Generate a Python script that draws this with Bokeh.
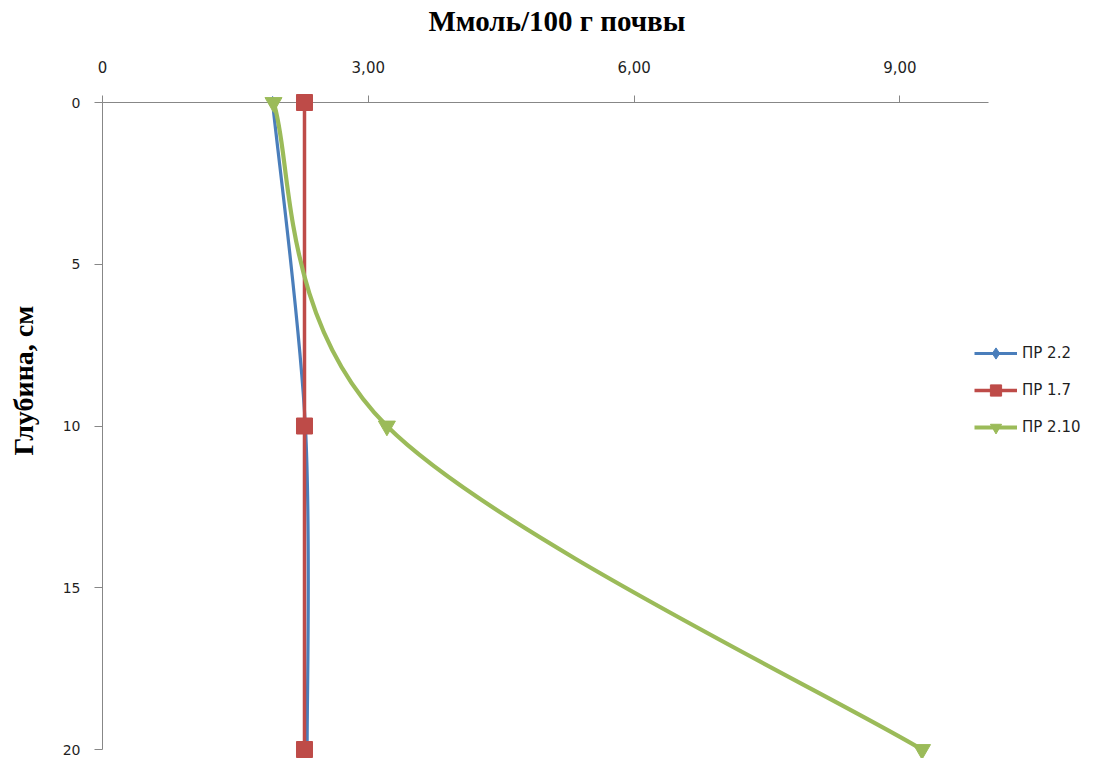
from bokeh.plotting import figure
from bokeh.models import Range1d, FixedTicker, Legend, LegendItem, Title, ColumnDataSource
from bokeh.embed import file_html
from bokeh.resources import INLINE

# Depth of sampling, cm
depth = [0, 10, 20]

# Content, mmol per 100 g of soil
pr_2_2 = [1.92, 2.29, 2.31]
pr_1_7 = [2.28, 2.28, 2.28]
pr_2_10 = [1.93, 3.21, 9.25]

series_names = ["ПР 2.2", "ПР 1.7", "ПР 2.10"]
series_values = [pr_2_2, pr_1_7, pr_2_10]
series_colors = ["#4A7EBB", "#BE4B48", "#9BBB59"]
series_markers = ["diamond", "square", "inverted_triangle"]
series_marker_sizes = [12, 16, 17]
series_widths = [3.2, 3.5, 4.2]

x_ticks = [0, 3, 6, 9]
x_tick_labels = ["0", "3,00", "6,00", "9,00"]
y_ticks = [0, 5, 10, 15, 20]

FONT = "DejaVu Sans"
SERIF = "Liberation Serif"
TEXT_COLOR = "#1f1f1f"
AXIS_COLOR = "#878787"


def smooth_segments(xs, ys):
    """Cubic Bezier segments through the points (spreadsheet-style smoothing)."""
    n = len(xs)
    seg = {k: [] for k in ("x0", "y0", "x1", "y1", "cx0", "cy0", "cx1", "cy1")}
    for i in range(n - 1):
        prev_i = max(i - 1, 0)
        next_i = min(i + 2, n - 1)
        seg["x0"].append(xs[i])
        seg["y0"].append(ys[i])
        seg["x1"].append(xs[i + 1])
        seg["y1"].append(ys[i + 1])
        seg["cx0"].append(xs[i] + (xs[i + 1] - xs[prev_i]) / 6.0)
        seg["cy0"].append(ys[i] + (ys[i + 1] - ys[prev_i]) / 6.0)
        seg["cx1"].append(xs[i + 1] - (xs[next_i] - xs[i]) / 6.0)
        seg["cy1"].append(ys[i + 1] - (ys[next_i] - ys[i]) / 6.0)
    return ColumnDataSource(seg)


# The frame spans to the right edge so the legend there is not clipped;
# the value axis itself stops at 10, the depth axis at 20.
p = figure(
    width=1098, height=758,
    output_backend="svg", toolbar_location=None,
    x_range=Range1d(0, 11.242), y_range=Range1d(20.278, 0),
    x_axis_location="above", y_axis_location="left",
    min_border_left=102, min_border_right=0,
    min_border_top=102, min_border_bottom=0,
)
p.xgrid.visible = False
p.ygrid.visible = False
p.outline_line_color = None
p.background_fill_color = "white"
p.border_fill_color = "white"

# Top value axis
xa = p.xaxis[0]
xa.ticker = FixedTicker(ticks=x_ticks)
xa.major_label_overrides = {t: s for t, s in zip(x_ticks, x_tick_labels)}
xa.bounds = (0, 10)
xa.axis_line_color = AXIS_COLOR
xa.major_tick_line_color = AXIS_COLOR
xa.minor_tick_line_color = None
xa.major_tick_in = 0
xa.major_tick_out = 7
xa.major_label_standoff = 23
xa.major_label_text_font = FONT
xa.major_label_text_font_size = "15px"
xa.major_label_text_color = TEXT_COLOR
# blank spacer label between tick labels and the title
xa.axis_label = " "
xa.axis_label_text_font_size = "1px"
xa.axis_label_standoff = 15

# Left depth axis
ya = p.yaxis[0]
ya.ticker = FixedTicker(ticks=y_ticks)
ya.bounds = (0, 20)
ya.axis_line_color = AXIS_COLOR
ya.major_tick_line_color = AXIS_COLOR
ya.minor_tick_line_color = None
ya.major_tick_in = 0
ya.major_tick_out = 8
ya.major_label_standoff = 14
ya.major_label_text_font = FONT
ya.major_label_text_font_size = "14px"
ya.major_label_text_color = TEXT_COLOR
ya.axis_label = " "
ya.axis_label_text_font_size = "1px"
ya.axis_label_standoff = 11

p.title.text = "Ммоль/100 г почвы"
p.title.align = "left"
p.title.offset = 326
p.title.standoff = 4
p.title.text_font = SERIF
p.title.text_font_style = "bold"
p.title.text_font_size = "29px"
p.title.text_color = "black"

p.add_layout(Title(text="Глубина, см", align="left", offset=303, standoff=11,
                   text_font=SERIF, text_font_style="bold", text_font_size="28px",
                   text_color="black"), "left")

items = []
for name, vals, color, marker, msize, lw in zip(series_names, series_values, series_colors,
                                                 series_markers, series_marker_sizes, series_widths):
    curve = p.bezier(x0="x0", y0="y0", x1="x1", y1="y1", cx0="cx0", cy0="cy0",
                     cx1="cx1", cy1="cy1", source=smooth_segments(vals, depth),
                     line_color=color, line_width=lw, level="overlay")
    pts = p.scatter(vals, depth, marker=marker, size=msize, fill_color=color,
                    line_color=color, line_width=1, level="overlay")
    items.append(LegendItem(label=name, renderers=[curve, pts]))

legend = Legend(items=items, location=(872, 317),
                glyph_width=43, glyph_height=28, label_standoff=5, spacing=9,
                padding=0, margin=0, border_line_color=None, background_fill_alpha=0,
                label_text_font=FONT, label_text_font_size="15px",
                label_text_color=TEXT_COLOR)
p.add_layout(legend, "center")

open("out.html", "w").write(file_html(p, INLINE))
